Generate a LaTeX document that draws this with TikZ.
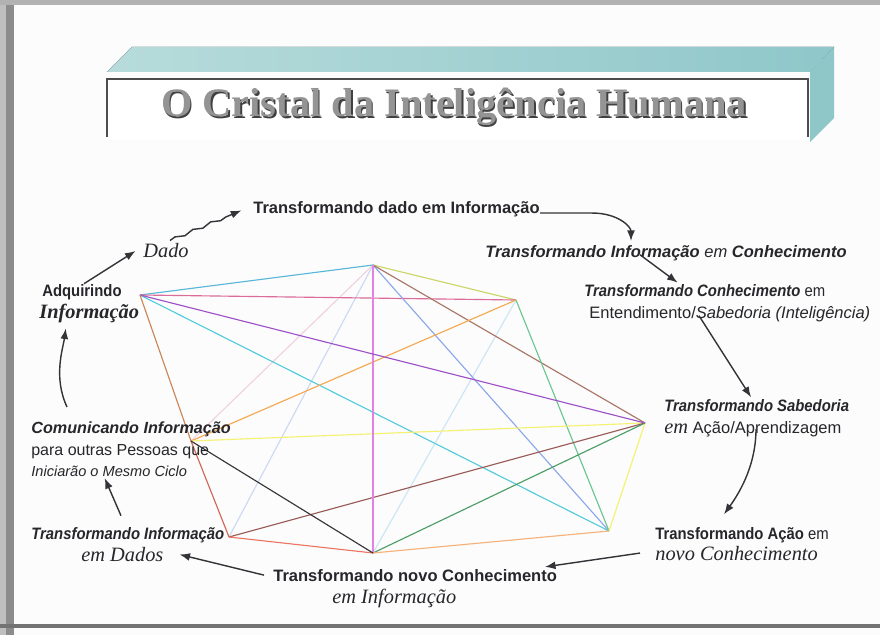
\documentclass[tikz,border=0pt]{standalone}
\usepackage{fontspec}
\setmainfont{Liberation Serif}
\setsansfont{Liberation Sans}
\newfontfamily\narrowsf[FakeStretch=0.9]{Liberation Sans}
\usepackage{tikz}
\usetikzlibrary{calc}
\usetikzlibrary{arrows.meta}
\usetikzlibrary{decorations.pathmorphing}
\definecolor{lbltext}{rgb}{0.15,0.15,0.17}
\definecolor{arrowgray}{rgb}{0.2,0.2,0.22}
\definecolor{pagebg}{rgb}{0.99,0.99,0.99}
\definecolor{teallight}{rgb}{0.72,0.86,0.86}
\definecolor{tealdark}{rgb}{0.56,0.78,0.79}
\definecolor{edgeskyblue}{rgb}{0.35,0.72,0.85}
\definecolor{edgelime}{rgb}{0.8,0.84,0.4}
\definecolor{edgepink}{rgb}{0.86,0.42,0.6}
\definecolor{edgeviolet}{rgb}{0.62,0.32,0.78}
\definecolor{edgecyan}{rgb}{0.32,0.8,0.86}
\definecolor{edgetan}{rgb}{0.8,0.52,0.34}
\definecolor{edgerust}{rgb}{0.82,0.4,0.32}
\definecolor{edgemagenta}{rgb}{0.9,0.5,0.9}
\definecolor{edgeperiwinkle}{rgb}{0.55,0.66,0.92}
\definecolor{edgebrown}{rgb}{0.66,0.46,0.4}
\definecolor{edgeblush}{rgb}{0.95,0.82,0.88}
\definecolor{edgemist}{rgb}{0.8,0.85,0.95}
\definecolor{edgeorange}{rgb}{0.96,0.66,0.32}
\definecolor{edgegreen}{rgb}{0.42,0.78,0.56}
\definecolor{edgeice}{rgb}{0.8,0.9,0.96}
\definecolor{edgeyellow}{rgb}{0.96,0.95,0.45}
\definecolor{edgemaroon}{rgb}{0.6,0.36,0.34}
\definecolor{edgeforest}{rgb}{0.3,0.62,0.4}
\definecolor{edgepeach}{rgb}{0.96,0.7,0.48}
\definecolor{edgecoral}{rgb}{0.92,0.46,0.38}
\definecolor{edgeink}{rgb}{0.2,0.2,0.22}
\newcommand{\serifit}[1]{{\rmfamily\itshape\mdseries\fontsize{11.6}{13}\selectfont #1}}
\tikzset{
  lbl/.style={inner sep=0pt, anchor=mid west, text=lbltext, font=\sffamily\fontsize{9.4}{11}\selectfont},
  lblnarrow/.style={lbl, font=\narrowsf\fontsize{9.4}{11}\selectfont},
  lblserif/.style={lbl, font=\rmfamily\itshape\fontsize{11.6}{13}\selectfont},
  cycarrow/.style={-{Latex[length=6pt,width=4.5pt]}, line width=0.8pt, draw=arrowgray, shorten >=1pt},
  crysedge/.style={line width=0.65pt},
  titletext/.style={inner sep=0pt, anchor=base, font=\rmfamily\bfseries\fontsize{23}{26}\selectfont},
}

\begin{document}
\begin{tikzpicture}[x=0.02cm,y=-0.02cm]
  \useasboundingbox (0,0) rectangle (880,635);
  % page
  \fill[pagebg] (0,0) rectangle (880,635);
  \fill[black!45] (0,0) rectangle (14,635);
  \fill[black!25] (0,0) rectangle (6,635);
  \fill[black!30] (0,0) rectangle (880,5);
  \fill[black!55] (0,624) rectangle (880,628);

  % title banner
  \fill[left color=teallight, right color=tealdark] (107,72) -- (132,47) -- (834,47) -- (810,72) -- cycle;
  \fill[tealdark] (810,72) -- (834,47) -- (834,118) -- (810,142) -- cycle;
  \fill[white] (107,79) rectangle (808,140);
  \draw[line width=0.8pt, black!70] (107,137) -- (107,79) -- (808,79) -- (808,137);
  \node[titletext, text=black!75] (titleshadow) at (455.5,118.5) {O Cristal da Inteligência Humana};
  \node[titletext, text=black!42] (title) at (454,117) {O Cristal da Inteligência Humana};

  % crystal vertices
  \coordinate (topl) at (140,295);
  \coordinate (top) at (373,265);
  \coordinate (topr) at (516,300);
  \coordinate (right) at (645,423);
  \coordinate (botr) at (609,531);
  \coordinate (bot) at (373,553);
  \coordinate (botl) at (229,537);
  \coordinate (left) at (191,441);

  % crystal edges
  \foreach \a/\b/\c in {top/left/edgeblush, top/botl/edgemist, topr/bot/edgeice,
      topl/top/edgeskyblue, top/topr/edgelime, topl/topr/edgepink,
      topl/botr/edgecyan, top/botr/edgeperiwinkle, top/right/edgebrown,
      topr/botr/edgegreen, topr/left/edgeorange, left/right/edgeyellow,
      right/botr/edgeyellow, right/botl/edgemaroon, right/bot/edgeforest,
      top/bot/edgemagenta, topl/right/edgeviolet, topl/left/edgetan,
      left/botl/edgerust, botl/bot/edgecoral, bot/botr/edgepeach, left/bot/edgeink}
    \draw[crysedge, \c] (\a) -- (\b);

  % cycle labels
  \node[lbl] (tdado) at (253,209) {\bfseries Transformando dado em Informação};
  \node[lblserif] (dado) at (143,253) {Dado};
  \node[lblnarrow] (adq1) at (42,292) {\bfseries Adquirindo};
  \node[lblserif, font=\rmfamily\bfseries\itshape\fontsize{11.6}{13}\selectfont] (adq2) at (39,314) {Informação};
  \node[lbl] (tinfo) at (485,253) {\bfseries\itshape Transformando Informação \mdseries em \bfseries Conhecimento};
  \node[lblnarrow] (tcon1) at (584,292) {\bfseries\itshape Transformando Conhecimento \mdseries\upshape em};
  \node[lbl] (tcon2) at (589,314) {Entendimento/\textit{Sabedoria (Inteligência)}};
  \node[lblnarrow] (tsab1) at (664,407) {\bfseries\itshape Transformando Sabedoria};
  \node[lbl] (tsab2) at (664,429) {\serifit{em} Ação/Aprendizagem};
  \node[lblnarrow] (tacao1) at (655,535) {\textbf{Transformando Ação} em};
  \node[lblserif] (tacao2) at (655,556) {novo Conhecimento};
  \node[lbl] (tnovo1) at (273,577) {\bfseries Transformando novo Conhecimento};
  \node[lblserif] (tnovo2) at (332,599) {em Informação};
  \node[lblnarrow] (tdad1) at (31,535) {\bfseries\itshape Transformando Informação};
  \node[lblserif] (tdad2) at (81,557) {em Dados};
  \node[lbl, font=\sffamily\fontsize{9.2}{11}\selectfont] (com1) at (31,429) {\bfseries\itshape Comunicando Informação};
  \node[lbl, font=\sffamily\fontsize{9.1}{11}\selectfont] (com2) at (31,451) {para outras Pessoas que};
  \node[lbl, font=\sffamily\itshape\fontsize{8.3}{10}\selectfont] (com3) at (31,472) {Iniciarão o Mesmo Ciclo};

  % cycle arrows
  \draw[cycarrow] ($(adq1.north)+(2,0)$) -- ($(dado.west)+(-6,0)$);
  \draw[cycarrow, decorate, decoration={snake, amplitude=0.8pt, segment length=11pt, post length=8pt}]
    ($(dado.north)+(4,-2)$) -- ($(tdado.west)+(-10,1)$);
  \draw[cycarrow] (tdado.base east) -- ++(52,0) .. controls +(26,0) and +(0,-16) .. ($(tinfo.north west)+(146,-2)$);
  \draw[cycarrow] ($(tinfo.west)+(155,2)$) -- ($(tcon1.north west)+(95,0)$);
  \draw[cycarrow] ($(tcon2.west)+(110,2)$) -- ($(tsab1.north west)+(88,0)$);
  \draw[cycarrow] ($(tsab2.west)+(92,0)$) .. controls +(0,35) and +(18,-25) .. ($(tacao1.north west)+(68,-11)$);
  \draw[cycarrow] ($(tacao2.west)+(-15,0)$) -- ($(tnovo1.east)+(-14,-8)$);
  \draw[cycarrow] ($(tnovo1.west)+(-9,0)$) -- ($(tdad2.east)+(14,0)$);
  \draw[cycarrow] ($(tdad1.north west)+(90,-11)$) -- ($(com3.south west)+(73,0)$);
  \draw[cycarrow] ($(com1.north west)+(36,-14)$) .. controls +(-14,-30) and +(-3,22) .. ($(adq2.south west)+(27,4)$);
\end{tikzpicture}
\end{document}
